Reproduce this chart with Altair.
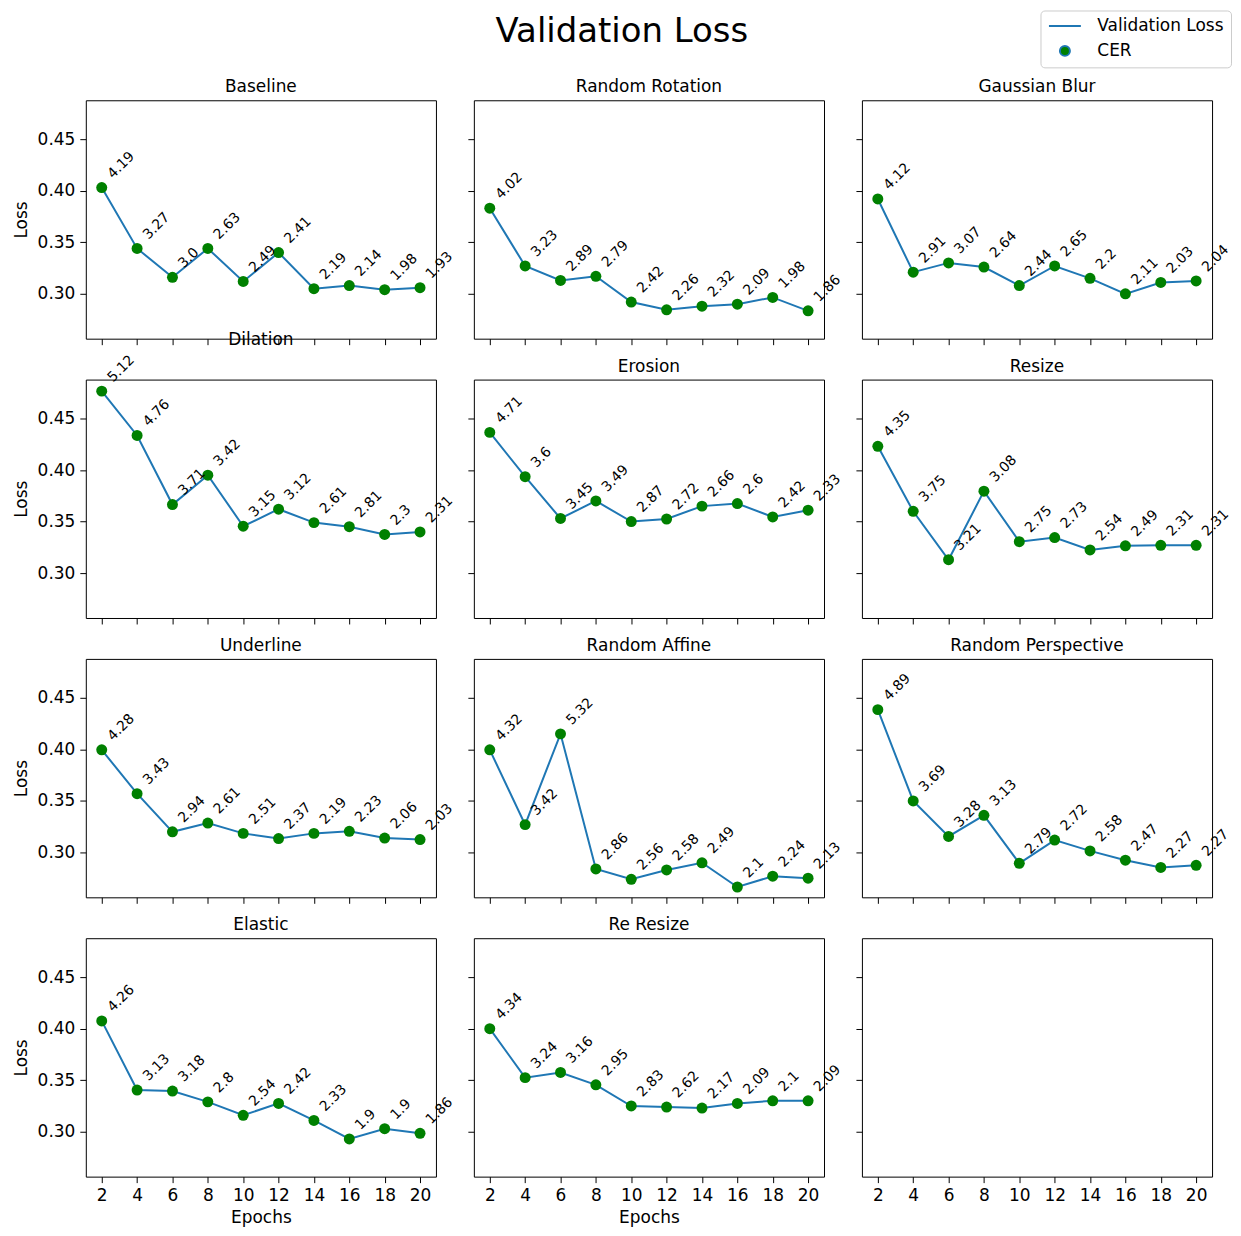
import altair as alt
import pandas as pd

FONT = "DejaVu Sans"

epochs = [2, 4, 6, 8, 10, 12, 14, 16, 18, 20]

panel_names = ["Baseline", "Random Rotation", "Gaussian Blur",
               "Dilation", "Erosion", "Resize",
               "Underline", "Random Affine", "Random Perspective",
               "Elastic", "Re Resize"]

baseline_loss = [0.403, 0.344, 0.316, 0.344, 0.312, 0.340, 0.305, 0.308, 0.304, 0.306]
baseline_cer = [4.19, 3.27, 3.0, 2.63, 2.49, 2.41, 2.19, 2.14, 1.98, 1.93]

rotation_loss = [0.383, 0.327, 0.313, 0.317, 0.292, 0.2845, 0.288, 0.290, 0.2965, 0.2835]
rotation_cer = [4.02, 3.23, 2.89, 2.79, 2.42, 2.26, 2.32, 2.09, 1.98, 1.86]

blur_loss = [0.392, 0.321, 0.330, 0.326, 0.308, 0.327, 0.315, 0.300, 0.311, 0.3125]
blur_cer = [4.12, 2.91, 3.07, 2.64, 2.44, 2.65, 2.2, 2.11, 2.03, 2.04]

dilation_loss = [0.4765, 0.4335, 0.3665, 0.395, 0.3455, 0.362, 0.349, 0.345, 0.3375, 0.340]
dilation_cer = [5.12, 4.76, 3.71, 3.42, 3.15, 3.12, 2.61, 2.81, 2.3, 2.31]

erosion_loss = [0.4365, 0.3935, 0.353, 0.370, 0.350, 0.3525, 0.365, 0.3675, 0.3545, 0.361]
erosion_cer = [4.71, 3.6, 3.45, 3.49, 2.87, 2.72, 2.66, 2.6, 2.42, 2.33]

resize_loss = [0.423, 0.360, 0.313, 0.3795, 0.3305, 0.3345, 0.3225, 0.3265, 0.327, 0.327]
resize_cer = [4.35, 3.75, 3.21, 3.08, 2.75, 2.73, 2.54, 2.49, 2.31, 2.31]

underline_loss = [0.3995, 0.357, 0.320, 0.3285, 0.3185, 0.3135, 0.3185, 0.3205, 0.314, 0.3125]
underline_cer = [4.28, 3.43, 2.94, 2.61, 2.51, 2.37, 2.19, 2.23, 2.06, 2.03]

affine_loss = [0.3995, 0.327, 0.415, 0.284, 0.274, 0.283, 0.290, 0.2665, 0.277, 0.275]
affine_cer = [4.32, 3.42, 5.32, 2.86, 2.56, 2.58, 2.49, 2.1, 2.24, 2.13]

perspective_loss = [0.4385, 0.350, 0.3155, 0.336, 0.2895, 0.312, 0.3015, 0.2925, 0.2855, 0.2875]
perspective_cer = [4.89, 3.69, 3.28, 3.13, 2.79, 2.72, 2.58, 2.47, 2.27, 2.27]

elastic_loss = [0.4075, 0.3405, 0.3395, 0.329, 0.316, 0.3275, 0.311, 0.293, 0.303, 0.2985]
elastic_cer = [4.26, 3.13, 3.18, 2.8, 2.54, 2.42, 2.33, 1.9, 1.9, 1.86]

reresize_loss = [0.400, 0.3525, 0.3575, 0.3455, 0.325, 0.324, 0.323, 0.3275, 0.330, 0.330]
reresize_cer = [4.34, 3.24, 3.16, 2.95, 2.83, 2.62, 2.17, 2.09, 2.1, 2.09]

y_ticks = [0.30, 0.35, 0.40, 0.45]
legend_labels = ["Validation Loss", "CER"]

series_loss = [baseline_loss, rotation_loss, blur_loss, dilation_loss, erosion_loss,
               resize_loss, underline_loss, affine_loss, perspective_loss,
               elastic_loss, reresize_loss]
series_cer = [baseline_cer, rotation_cer, blur_cer, dilation_cer, erosion_cer,
              resize_cer, underline_cer, affine_cer, perspective_cer,
              elastic_cer, reresize_cer]

rows = []
for name, losses, cers in zip(panel_names, series_loss, series_cer):
    for e, l, c in zip(epochs, losses, cers):
        rows.append({"panel": name, "epoch": e, "loss": l, "cer": str(c), "series": "CER"})
df = pd.DataFrame(rows)

X_DOMAIN = [1.1, 20.9]
Y_DOMAIN = [0.2565, 0.4877]
LINE_BLUE = "#1f77b4"

LEGEND = alt.Legend(title=None, orient="none", legendX=957, legendY=-90,
                    symbolStrokeColor=LINE_BLUE, symbolStrokeWidth=2, symbolOffset=9)


def make_panel(idx, name):
    r, c = divmod(idx, 3)
    bottom = r == 3
    left = c == 0
    xaxis = alt.Axis(values=epochs, labels=bottom, format="d", labelPadding=5, titlePadding=6,
                     title=("Epochs" if (bottom and name) else None))
    yaxis = alt.Axis(values=y_ticks, labels=left, format=".2f",
                     title=("Loss" if left else None))
    xenc = alt.X("epoch:Q", scale=alt.Scale(domain=X_DOMAIN, nice=False, zero=False), axis=xaxis)
    yenc = alt.Y("loss:Q", scale=alt.Scale(domain=Y_DOMAIN, nice=False, zero=False), axis=yaxis)

    base = alt.Chart(df).transform_filter(alt.datum.panel == (name or "__none__"))

    if not name:
        ch = base.mark_point(opacity=0).encode(x=xenc, y=yenc)
        return ch.properties(width=351, height=239)

    line = base.mark_line(color=LINE_BLUE, strokeWidth=2).encode(x=xenc, y=yenc)
    pts = base.mark_point(filled=True, size=121, opacity=1).encode(
        x=xenc, y=yenc,
        color=alt.Color("series:N",
                        scale=alt.Scale(domain=legend_labels, range=[LINE_BLUE, "#008000"]),
                        legend=LEGEND),
        shape=alt.Shape("series:N",
                        scale=alt.Scale(domain=legend_labels, range=["M-3.2,0L3.2,0", "circle"]),
                        legend=LEGEND),
    )
    txt = base.mark_text(angle=315, align="left", baseline="alphabetic", dx=14, dy=2,
                         fontSize=14, font=FONT, color="black").encode(
        x=xenc, y=yenc, text="cer:N")
    return alt.layer(line, pts, txt).properties(
        width=351, height=239,
        title=alt.Title(name, fontSize=17, font=FONT, fontWeight="normal", color="black", offset=4),
    )


charts = [make_panel(i, n) for i, n in enumerate(panel_names + [""])]

chart = alt.concat(*charts, columns=3, spacing={"row": 41, "column": 38}, bounds="flush").properties(
    title=alt.Title("Validation Loss", fontSize=34, font=FONT, fontWeight="normal", color="black",
                    anchor="middle", frame="bounds", offset=-39),
    padding={"left": 3, "top": 0, "right": 0, "bottom": 0},
).configure_view(
    stroke="black", strokeWidth=1
).configure_axis(
    grid=False, domain=False, tickColor="black", tickSize=6, labelPadding=5,
    labelFont=FONT, labelFontSize=17, labelColor="black",
    titleFont=FONT, titleFontSize=17, titleFontWeight="normal", titleColor="black", titlePadding=7,
).configure_legend(
    padding=7, strokeColor="#cccccc", cornerRadius=4, fillColor="white",
    labelFont=FONT, labelFontSize=17, labelColor="black", labelOffset=24, rowPadding=7,
)

chart.save("out.html", embed_options={"renderer": "svg", "actions": False})
